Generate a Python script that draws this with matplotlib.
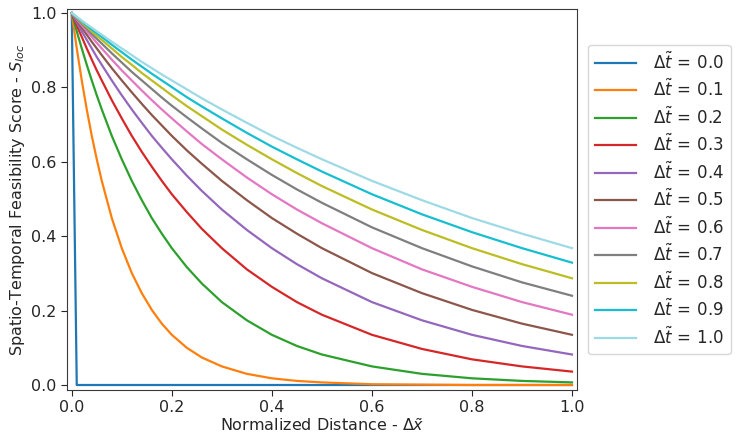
import numpy as np
import matplotlib
matplotlib.use("Agg")
import matplotlib.pyplot as plt

# normalized distance samples
x = [0.0, 0.01, 0.02, 0.03, 0.04, 0.05, 0.06, 0.08, 0.1, 0.12, 0.14, 0.16, 0.18,
     0.2, 0.23, 0.26, 0.3, 0.35, 0.4, 0.45, 0.5, 0.6, 0.7, 0.8, 0.9, 1.0]

# values, one list per delta t
s_00 = [1.0, 0.0, 0.0, 0.0, 0.0, 0.0, 0.0, 0.0, 0.0, 0.0, 0.0, 0.0, 0.0,
        0.0, 0.0, 0.0, 0.0, 0.0, 0.0, 0.0, 0.0, 0.0, 0.0, 0.0, 0.0, 0.0]
s_01 = [1.0, 0.905, 0.819, 0.741, 0.670, 0.607, 0.549, 0.449, 0.368, 0.301, 0.247, 0.202, 0.165,
        0.135, 0.100, 0.074, 0.050, 0.030, 0.018, 0.011, 0.007, 0.002, 0.001, 0.0, 0.0, 0.0]
s_02 = [1.0, 0.951, 0.905, 0.861, 0.819, 0.779, 0.741, 0.670, 0.607, 0.549, 0.497, 0.449, 0.407,
        0.368, 0.317, 0.273, 0.223, 0.174, 0.135, 0.105, 0.082, 0.050, 0.030, 0.018, 0.011, 0.007]
s_03 = [1.0, 0.967, 0.936, 0.905, 0.875, 0.846, 0.819, 0.766, 0.717, 0.670, 0.627, 0.587, 0.549,
        0.513, 0.465, 0.420, 0.368, 0.311, 0.264, 0.223, 0.189, 0.135, 0.097, 0.069, 0.050, 0.036]
s_04 = [1.0, 0.975, 0.951, 0.928, 0.905, 0.882, 0.861, 0.819, 0.779, 0.741, 0.705, 0.670, 0.638,
        0.607, 0.563, 0.522, 0.472, 0.417, 0.368, 0.325, 0.287, 0.223, 0.174, 0.135, 0.105, 0.082]
s_05 = [1.0, 0.980, 0.961, 0.942, 0.923, 0.905, 0.887, 0.852, 0.819, 0.787, 0.756, 0.726, 0.698,
        0.670, 0.631, 0.595, 0.549, 0.497, 0.449, 0.407, 0.368, 0.301, 0.247, 0.202, 0.165, 0.135]
s_06 = [1.0, 0.983, 0.967, 0.951, 0.936, 0.920, 0.905, 0.875, 0.846, 0.819, 0.792, 0.766, 0.741,
        0.717, 0.682, 0.648, 0.607, 0.558, 0.513, 0.472, 0.435, 0.368, 0.311, 0.264, 0.223, 0.189]
s_07 = [1.0, 0.986, 0.972, 0.958, 0.944, 0.931, 0.918, 0.892, 0.867, 0.842, 0.819, 0.796, 0.773,
        0.751, 0.720, 0.690, 0.651, 0.607, 0.565, 0.526, 0.490, 0.424, 0.368, 0.319, 0.276, 0.240]
s_08 = [1.0, 0.988, 0.975, 0.963, 0.951, 0.939, 0.928, 0.905, 0.882, 0.861, 0.839, 0.819, 0.799,
        0.779, 0.750, 0.723, 0.687, 0.646, 0.607, 0.570, 0.535, 0.472, 0.417, 0.368, 0.325, 0.287]
s_09 = [1.0, 0.989, 0.978, 0.967, 0.956, 0.946, 0.936, 0.915, 0.895, 0.875, 0.856, 0.837, 0.819,
        0.801, 0.774, 0.749, 0.717, 0.678, 0.641, 0.607, 0.574, 0.513, 0.459, 0.411, 0.368, 0.329]
s_10 = [1.0, 0.990, 0.980, 0.970, 0.961, 0.951, 0.942, 0.923, 0.905, 0.887, 0.869, 0.852, 0.835,
        0.819, 0.795, 0.771, 0.741, 0.705, 0.670, 0.638, 0.607, 0.549, 0.497, 0.449, 0.407, 0.368]

dt_labels = ["0.0", "0.1", "0.2", "0.3", "0.4", "0.5", "0.6", "0.7", "0.8", "0.9", "1.0"]
series = [s_00, s_01, s_02, s_03, s_04, s_05, s_06, s_07, s_08, s_09, s_10]

colors = ["#1f77b4", "#ff7f0e", "#2ca02c", "#d62728", "#9467bd", "#8c564b",
          "#e377c2", "#7f7f7f", "#bcbd22", "#17becf", "#9edae5"]

plt.rcParams["mathtext.fontset"] = "dejavusans"
plt.rcParams["text.color"] = "#262626"
plt.rcParams["axes.labelcolor"] = "#262626"
plt.rcParams["xtick.color"] = "#262626"
plt.rcParams["ytick.color"] = "#262626"
plt.rcParams["axes.edgecolor"] = "#3a3a3a"

fig = plt.figure(figsize=(7.42, 4.42), dpi=100)
ax = fig.add_axes([0.0903, 0.1176, 0.6873, 0.862])

for s, lab, c in zip(series, dt_labels, colors):
    ax.plot(x, s, color=c, lw=1.6, label=r"$\Delta\tilde{t}\,=\," + lab + "$")

ax.set_xlim(-0.0095, 1.01)
ax.set_ylim(-0.0135, 1.011)
ax.set_xticks([0.0, 0.2, 0.4, 0.6, 0.8, 1.0])
ax.set_yticks([0.0, 0.2, 0.4, 0.6, 0.8, 1.0])
ax.tick_params(labelsize=11.5, length=4)
ax.set_xlabel(r"Normalized Distance - $\Delta\tilde{x}$", fontsize=11.5, labelpad=1)
ax.set_ylabel(r"Spatio-Temporal Feasibility Score - $S_{loc}$", fontsize=11.5, labelpad=3)

ax.legend(loc="center left", bbox_to_anchor=(1.005, 0.5), fontsize=12,
          labelspacing=0.37, handlelength=2.5, handletextpad=1.0)

fig.savefig("out.png", dpi=100)
